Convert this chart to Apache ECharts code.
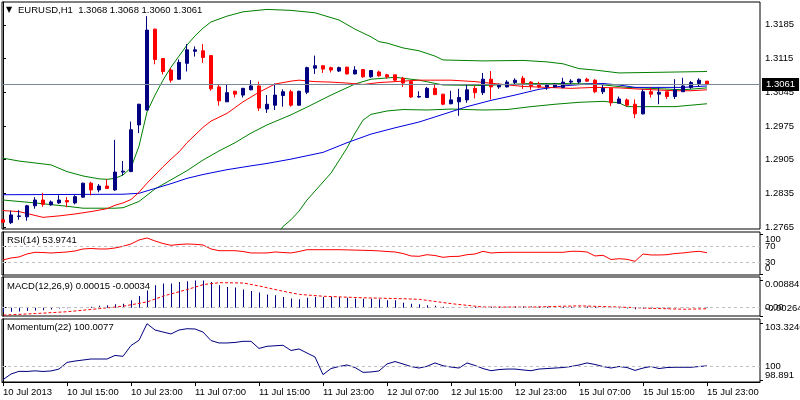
<!DOCTYPE html>
<html><head><meta charset="utf-8">
<script src="https://cdn.jsdelivr.net/npm/echarts@6/dist/echarts.min.js"></script>
<style>html,body{margin:0;padding:0;background:#fff}#c{width:800px;height:400px}</style>
</head><body><div id="c"></div>
<script>
// ---------- data ----------
const timeLabels = ['10 Jul 2013','10 Jul 15:00','10 Jul 23:00','11 Jul 07:00','11 Jul 15:00','11 Jul 23:00','12 Jul 07:00','12 Jul 15:00','12 Jul 23:00','15 Jul 07:00','15 Jul 15:00','15 Jul 23:00'];
const timeTickBars = [0,8,16,24,32,40,48,56,64,72,80,88];

const open  = [1.2780,1.2774,1.2787,1.2786,1.2809,1.2821,1.2811,1.2815,1.2820,1.2815,1.2827,1.2856,1.2842,1.2850,1.2842,1.2879,1.2880,1.2977,1.3008,1.3176,1.3115,1.3091,1.3072,1.3105,1.3130,1.3131,1.3121,1.3056,1.3025,1.3047,1.3039,1.3050,1.3058,1.3010,1.3018,1.3038,1.3046,1.3018,1.3045,1.3095,1.3100,1.3096,1.3089,1.3097,1.3083,1.3092,1.3077,1.3087,1.3081,1.3081,1.3074,1.3067,1.3035,1.3034,1.3053,1.3041,1.3021,1.3025,1.3029,1.3053,1.3044,1.3072,1.3056,1.3056,1.3065,1.3074,1.3066,1.3062,1.3056,1.3056,1.3055,1.3066,1.3066,1.3072,1.3070,1.3046,1.3053,1.3022,1.3029,1.3020,1.3000,1.3046,1.3041,1.3046,1.3036,1.3046,1.3055,1.3063,1.3068];
const high  = [1.2782,1.2799,1.2800,1.2811,1.2827,1.2836,1.2820,1.2831,1.2827,1.2831,1.2857,1.2859,1.2854,1.2864,1.2946,1.2902,1.2984,1.3021,1.3203,1.3177,1.3116,1.3095,1.3113,1.3145,1.3140,1.3145,1.3122,1.3061,1.3062,1.3048,1.3054,1.3070,1.3067,1.3039,1.3063,1.3051,1.3050,1.3048,1.3098,1.3121,1.3101,1.3098,1.3098,1.3098,1.3099,1.3093,1.3091,1.3090,1.3083,1.3081,1.3077,1.3069,1.3047,1.3056,1.3060,1.3041,1.3048,1.3052,1.3061,1.3058,1.3085,1.3089,1.3063,1.3070,1.3074,1.3079,1.3068,1.3067,1.3063,1.3063,1.3075,1.3072,1.3073,1.3075,1.3072,1.3060,1.3054,1.3036,1.3032,1.3030,1.3051,1.3055,1.3055,1.3046,1.3072,1.3075,1.3068,1.3074,1.3068];
const low   = [1.2773,1.2771,1.2780,1.2778,1.2803,1.2807,1.2809,1.2813,1.2806,1.2812,1.2826,1.2831,1.2837,1.2844,1.2840,1.2872,1.2879,1.2960,1.3007,1.3103,1.3082,1.3065,1.3071,1.3088,1.3119,1.3106,1.3048,1.3017,1.3025,1.3034,1.3034,1.3049,1.3006,1.3002,1.3008,1.3015,1.3015,1.3017,1.3041,1.3083,1.3085,1.3086,1.3087,1.3082,1.3082,1.3075,1.3075,1.3077,1.3073,1.3068,1.3056,1.3033,1.3034,1.3033,1.3039,1.3018,1.3020,1.2996,1.3023,1.3032,1.3039,1.3030,1.3052,1.3055,1.3060,1.3052,1.3050,1.3053,1.3050,1.3055,1.3053,1.3061,1.3063,1.3067,1.3043,1.3041,1.3016,1.3022,1.3015,1.2991,1.2999,1.3034,1.3020,1.3031,1.3031,1.3046,1.3052,1.3056,1.3060];
const close = [1.2775,1.2790,1.2788,1.2809,1.2821,1.2812,1.2817,1.2821,1.2817,1.2828,1.2856,1.2842,1.2850,1.2845,1.2879,1.2881,1.2967,1.3020,1.3174,1.3113,1.3088,1.3070,1.3107,1.3133,1.3133,1.3117,1.3052,1.3027,1.3044,1.3041,1.3053,1.3058,1.3012,1.3020,1.3039,1.3046,1.3018,1.3047,1.3096,1.3100,1.3093,1.3091,1.3096,1.3083,1.3091,1.3077,1.3090,1.3079,1.3077,1.3070,1.3064,1.3035,1.3036,1.3053,1.3040,1.3020,1.3029,1.3034,1.3050,1.3044,1.3072,1.3056,1.3059,1.3066,1.3070,1.3064,1.3058,1.3056,1.3060,1.3062,1.3066,1.3068,1.3072,1.3068,1.3046,1.3053,1.3023,1.3031,1.3018,1.3000,1.3046,1.3041,1.3045,1.3036,1.3050,1.3058,1.3065,1.3070,1.3061];

// indicator lines on the price chart: [bar index, price]
const bbUpper = [[0,1.2908],[2,1.2902],[4,1.2898],[6,1.2894],[8,1.2880],[10,1.2871],[12,1.2865],[13,1.2864],[14,1.2866],[15,1.2873],[16,1.2888],[17,1.2933],[18,1.3004],[19,1.3039],[20,1.3070],[21,1.3097],[22,1.3120],[23,1.3143],[24,1.3162],[25,1.3178],[26,1.3191],[28,1.3203],[30,1.3212],[33,1.3217],[36,1.3215],[39,1.3210],[42,1.3195],[44,1.3176],[46,1.3160],[47,1.3150],[48,1.3147],[50,1.3137],[52,1.3131],[54,1.3120],[55,1.3112],[60,1.3110],[65,1.3111],[68,1.3108],[70,1.3104],[72,1.3094],[74,1.3091],[77,1.3085],[88,1.3088]];
const bbMiddle = [[0,1.2821],[4,1.2815],[8,1.2808],[10,1.2804],[14,1.2804],[15,1.2805],[17,1.2818],[19,1.2844],[21,1.2863],[23,1.2882],[25,1.2904],[27,1.2923],[29,1.2940],[31,1.2960],[33,1.2977],[36,1.2998],[38,1.3014],[41,1.3039],[44,1.3062],[46,1.3072],[49,1.3076],[52,1.3070],[55,1.3060],[60,1.3059],[66,1.3063],[70,1.3063],[74,1.3062],[78,1.3055],[81,1.3053],[85,1.3050],[88,1.3054]];
const bbLower = [[33,1.2717],[34,1.2742],[35,1.2766],[36,1.2780],[37,1.2798],[38,1.2821],[41,1.2877],[43,1.2929],[44,1.2960],[45,1.2987],[46,1.2999],[48,1.3006],[50,1.3009],[53,1.3008],[56,1.3010],[60,1.3008],[63,1.3009],[66,1.3015],[69,1.3020],[72,1.3024],[75,1.3026],[77,1.3023],[78,1.3015],[84,1.3015],[86,1.3018],[88,1.3021]];
const maRed = [[0,1.2799],[2,1.2797],[4,1.2789],[5,1.2785],[7,1.2788],[9,1.2792],[11,1.2797],[13,1.2803],[14,1.2810],[15,1.2815],[16,1.2822],[17,1.2837],[18,1.2856],[19,1.2873],[20,1.2890],[21,1.2906],[22,1.2921],[23,1.2940],[24,1.2956],[25,1.2972],[26,1.2985],[28,1.3001],[30,1.3025],[32,1.3045],[34,1.3062],[36,1.3068],[37,1.3070],[39,1.3067],[41,1.3066],[43,1.3064],[45,1.3061],[47,1.3065],[49,1.3067],[52,1.3070],[56,1.3070],[59,1.3067],[62,1.3062],[65,1.3057],[68,1.3055],[71,1.3053],[74,1.3055],[77,1.3054],[80,1.3051],[84,1.3048],[86,1.3048],[88,1.3050]];
const maBlue = [[0,1.2832],[15,1.2833],[17,1.2835],[19,1.2845],[21,1.2855],[23,1.2866],[25,1.2874],[28,1.2884],[31,1.2892],[33,1.2897],[36,1.2906],[40,1.2920],[43,1.2940],[46,1.2958],[49,1.2971],[52,1.2983],[55,1.2999],[58,1.3015],[61,1.3028],[64,1.3039],[67,1.3051],[70,1.3058],[73,1.3062],[75,1.3063],[77,1.3060],[79,1.3055],[85,1.3055],[88,1.3058]];

const priceTicks = [1.2765,1.2835,1.2905,1.2975,1.3045,1.3115,1.3185];
const lastPrice = 1.3061;

const rsi = [35.8,40.8,43.3,50.8,55,54.5,53.3,54.5,55.8,58.3,63.3,64.5,63.3,63.3,65.8,70,75.8,85.8,90.8,83.3,77,72.5,74.5,75.8,75,73.3,63.3,59,59,59,57,53.3,53.3,53.3,55.8,54.5,53.3,57,61.5,61.5,61.5,61.5,61.5,61,60.5,60,59.5,58.5,57,55.8,52,45.8,45,49,47,42.5,44.5,45,49,50.8,57.5,53.3,54.5,55,55,55,55,55,55,55,55,57.5,57.5,55.8,45.8,47.5,37,39,37.5,32.5,50.8,48.3,48.3,49,52,53.3,55.8,57.5,53.9741];
const rsiLevels = [30,70];
const rsiEdgeTicks = [0,100];

const macdHist = [-0.0014,-0.0013,-0.0012,-0.0011,-0.0009,-0.0008,-0.0006,-0.0003,-0.0002,-0.0001,0.0000,0.0003,0.0006,0.0008,0.0011,0.0013,0.0024,0.0038,0.0056,0.0073,0.0078,0.0078,0.0083,0.0086,0.00884,0.0088,0.0083,0.0073,0.0067,0.0065,0.0059,0.0054,0.0049,0.0043,0.0040,0.0035,0.0030,0.0027,0.0032,0.0035,0.0035,0.0035,0.0035,0.0032,0.0030,0.0029,0.0029,0.0027,0.0024,0.0024,0.0016,0.0013,0.0011,0.0008,0.0006,0.0003,0.0001,0.0000,0.0001,0.0002,0.0003,0.0003,0.0003,0.0003,0.0004,0.0004,0.0004,0.0003,0.0003,0.0003,0.0003,0.0003,0.0004,0.0004,0.0002,0.0001,-0.0001,-0.0002,-0.0003,-0.0005,-0.0003,-0.0003,-0.0003,-0.0003,-0.0002,-0.0001,0.0000,0.0001,0.00015];
const macdSignal = [[0,-0.0024],[4,-0.0019],[8,-0.0013],[12,-0.0003],[15,0.0005],[18,0.0019],[20,0.0038],[23,0.0059],[25,0.0075],[27,0.0081],[30,0.0080],[32,0.0070],[35,0.0053],[37,0.0043],[40,0.0037],[42,0.0035],[45,0.0032],[50,0.0029],[52,0.0027],[56,0.0013],[60,0.0002],[66,0.0002],[72,0.0006],[77,0.0002],[81,-0.0002],[85,-0.0005],[88,-0.00034]];
const macdLevel = 0;
const macdEdgeTicks = [-0.00264,0.00884];

const momentum = [98.92,99.37,99.58,99.57,99.62,99.57,99.61,99.76,100.28,100.39,100.47,100.55,100.55,100.55,100.83,100.76,101.61,102.02,103.3246,102.83,102.67,102.52,102.83,102.93,102.91,102.67,102.00,101.81,101.81,101.85,101.94,101.94,101.38,101.55,101.59,101.63,101.22,101.34,101.02,100.71,99.32,99.80,99.96,100.08,99.88,99.50,99.53,99.61,100.16,100.35,100.16,99.96,99.84,99.98,100.24,100.02,99.92,99.84,100.24,100.04,99.80,99.63,99.72,99.76,99.76,99.69,99.63,99.76,99.80,99.84,99.88,99.96,100.08,100.24,100.12,99.96,99.84,99.96,99.88,99.65,99.84,99.96,99.80,99.88,99.90,99.90,99.90,99.96,100.0077];
const momLevel = 100;
const momEdgeTicks = [98.891,103.3246];

// ---------- chart ----------
const FONT = 'Liberation Sans';
const FS = 9.5;
const txt = {color:'#000', fontFamily:FONT, fontSize:FS};
const L = 2, W = 758;
const panels = [[2,227],[232,43],[277,39],[319,63]];
const grids = panels.map(p => ({left:L, top:p[0], width:W, height:p[1], show:true,
  borderColor:'#000', borderWidth:1, backgroundColor:'#fff', containLabel:false, outerBoundsMode:'none'}));

// MACD panel x range shifted by half a pixel so that 1px histogram bars stay crisp
const xRanges = [[-0.125,94.625],[-0.125,94.625],[-0.1875,94.5625],[-0.125,94.625]];
const xAxes = grids.map((g,k) => ({
  type:'value', gridIndex:k, min:xRanges[k][0], max:xRanges[k][1],
  splitLine:{show:false},
  axisLine:{show:k===3, lineStyle:{color:'#000'}},
  axisTick:{show:k===3, customValues:timeTickBars, length:4, lineStyle:{color:'#000'}},
  axisLabel:Object.assign({show:k===3, customValues:timeTickBars, align:'left', margin:5,
    formatter:v => timeLabels[Math.round(v/8)]}, txt)
}));

function yAx(k, min, max, ticks, fmt, rich, line){
  return {type:'value', gridIndex:k, position:'right', min:min, max:max,
    splitLine:{show:false},
    axisLine:{show:line !== false, lineStyle:{color:'#000'}},
    axisTick:{show:true, customValues:ticks, length:3, lineStyle:{color:'#000'}},
    axisLabel:Object.assign({customValues:ticks, margin:5, formatter:fmt, rich:rich||{},
      showMinLabel:true, showMaxLabel:true, hideOverlap:false}, txt)};
}
const yr = {main:[1.27608,1.32324], rsi:[-1.75,105.75], macd:[-0.00269,0.00994], mom:[98.742,103.695]};
const yAxes = [
  yAx(0, yr.main[0], yr.main[1], priceTicks, v => v.toFixed(4)),
  yAx(1, yr.rsi[0], yr.rsi[1], rsiLevels, v => String(v)),
  yAx(2, yr.macd[0], yr.macd[1], [macdLevel], v => '0.00'),
  yAx(3, yr.mom[0], yr.mom[1], [momLevel], v => String(v)),
  // edge labels (MT4 draws them pulled inside the panel)
  yAx(1, yr.rsi[0], yr.rsi[1], rsiEdgeTicks, v => v>50 ? '{dn|'+v+'}' : '{up|'+v+'}',
      {dn:Object.assign({padding:[11,0,0,0]},txt), up:Object.assign({padding:[0,0,11,0]},txt)}, false),
  yAx(2, yr.macd[0], yr.macd[1], macdEdgeTicks, v => v>0 ? '{dn|'+v.toFixed(5)+'}' : '{up|'+v.toFixed(5)+'}',
      {dn:Object.assign({padding:[8,0,0,0]},txt), up:Object.assign({padding:[0,0,15,0]},txt)}, false),
  yAx(3, yr.mom[0], yr.mom[1], momEdgeTicks, v => v>100 ? '{dn|'+v+'}' : '{up|'+v+'}',
      {dn:Object.assign({padding:[7,0,0,0]},txt), up:Object.assign({padding:[0,0,10,0]},txt)}, false)
];

const lvlStyle = {color:'#c0c0c0', width:1, type:[3,3]};
function line(k, data, color, extra){
  return Object.assign({type:'line', xAxisIndex:k, yAxisIndex:k, data:data, showSymbol:false, symbol:'none',
    clip:true, lineStyle:{color:color, width:1}, itemStyle:{color:color}, animation:false, silent:true, z:3}, extra||{});
}
function levels(vals){
  return {silent:true, symbol:['none','none'], animation:false, precision:6, label:{show:false},
    lineStyle:lvlStyle, data:vals.map(v => ({yAxis:v}))};
}
const idx = arr => arr.map((v,i) => [i,v]);

const option = {
  animation:false,
  backgroundColor:'#fff',
  title:[
    {text:'▼', left:6, top:6, padding:0, textStyle:{color:'#000', fontFamily:'DejaVu Sans', fontSize:8, fontWeight:'normal'}},
    {text:'EURUSD,H1  1.3068 1.3068 1.3060 1.3061', left:18, top:5, padding:0, textStyle:Object.assign({fontWeight:'normal'},txt)},
    {text:'RSI(14) 53.9741', left:7, top:235, padding:0, textStyle:Object.assign({fontWeight:'normal'},txt)},
    {text:'MACD(12,26,9) 0.00015 -0.00034', left:7, top:281, padding:0, textStyle:Object.assign({fontWeight:'normal'},txt)},
    {text:'Momentum(22) 100.0077', left:7, top:322, padding:0, textStyle:Object.assign({fontWeight:'normal'},txt)}
  ],
  grid:grids, xAxis:xAxes, yAxis:yAxes,
  series:[
    line(0, bbUpper, '#008000', {z:2, markLine:{silent:true, symbol:['none','none'], animation:false, precision:6,
       data:[{yAxis:lastPrice}],
       lineStyle:{color:'#778899', width:1, type:'solid'},
       label:{position:'end', distance:2, formatter:lastPrice.toFixed(4), color:'#fff', backgroundColor:'#000',
              padding:[2,4,1,4], fontFamily:FONT, fontSize:FS}}}),
    line(0, bbMiddle, '#008000'),
    line(0, bbLower, '#008000'),
    line(0, maBlue, '#0000dd'),
    line(0, maRed, '#ff0000'),
    {type:'candlestick', xAxisIndex:0, yAxisIndex:0, barWidth:4, animation:false, silent:true, z:4,
     encode:{x:0, y:[1,2,3,4]},
     data:open.map((o,i) => [i, o, close[i], low[i], high[i]]),
     itemStyle:{color:'#000080', color0:'#ff0000', borderColor:'#000080', borderColor0:'#ff0000', borderWidth:1}},
    line(1, idx(rsi), '#ff0000', {markLine:levels(rsiLevels)}),
    {type:'bar', xAxisIndex:2, yAxisIndex:2, data:idx(macdHist), barWidth:1, animation:false, silent:true,
     itemStyle:{color:'#000080'}, markLine:levels([macdLevel])},
    line(2, macdSignal, '#ff0000', {lineStyle:{color:'#ff0000', width:1, type:[3,2]}}),
    line(3, idx(momentum), '#000080', {markLine:levels([momLevel])})
  ]
};
const chart = echarts.init(document.getElementById('c'), null, {renderer:'canvas'});
chart.setOption(option);
</script>
</body></html>
